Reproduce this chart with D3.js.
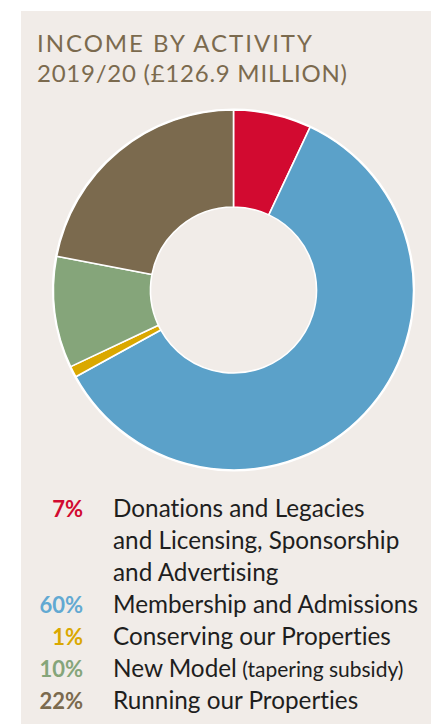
<!DOCTYPE html>
<html>
<head>
<meta charset="utf-8">
<script src="https://cdn.jsdelivr.net/npm/d3@7"></script>
<style>
  html, body { margin: 0; padding: 0; background: #ffffff; }
  svg { display: block; }
  text { font-family: Lato, "Open Sans", sans-serif; font-variant-ligatures: none; }
</style>
</head>
<body>
<svg id="chart" width="431" height="724"></svg>
<script>
// Income by activity, 2019/20
const categories = [
  "Donations and Legacies and Licensing, Sponsorship and Advertising",
  "Membership and Admissions",
  "Conserving our Properties",
  "New Model",
  "Running our Properties"
];
const shares = [7, 60, 1, 10, 22];
const colours = ["#d20a30", "#5ba1c9", "#daa800", "#85a57a", "#7b6a4e"];
const labelColours = ["#d20a30", "#62a9d2", "#daa800", "#85a57a", "#7b6a4e"];
// Legend lines per category (a category may wrap over several lines)
const legendLines = [
  ["Donations and Legacies", "and Licensing, Sponsorship", "and Advertising"],
  ["Membership and Admissions"],
  ["Conserving our Properties"],
  ["New Model"],
  ["Running our Properties"]
];
const legendNotes = ["", "", "", "(tapering subsidy)", ""];
const titleLines = ["INCOME BY ACTIVITY", "2019/20 (£126.9 MILLION)"];
const titleWidths = [275, 310];

const W = 431, H = 724;
const svg = d3.select("#chart");

// Panel background
svg.append("rect")
  .attr("x", 21).attr("y", 11)
  .attr("width", W - 21).attr("height", H - 11)
  .attr("fill", "#f1ece8");

// Title, spread to the panel's heading measure
svg.append("g").selectAll("text")
  .data(titleLines)
  .join("text")
  .attr("x", 37)
  .attr("y", (d, i) => 52 + i * 30)
  .attr("font-size", 24)
  .attr("fill", "#7b6a4e")
  .attr("textLength", (d, i) => titleWidths[i])
  .attr("lengthAdjust", "spacing")
  .text(d => d);

// Donut
const cx = 233.5, cy = 290, outerR = 180, innerR = 83;
const pie = d3.pie().sort(null).value(d => d);
const arc = d3.arc().innerRadius(innerR).outerRadius(outerR);
const g = svg.append("g").attr("transform", `translate(${cx},${cy})`);

g.selectAll("path")
  .data(pie(shares))
  .join("path")
  .attr("d", arc)
  .attr("fill", (d, i) => colours[i])
  .attr("stroke", "#ffffff")
  .attr("stroke-width", 1.6)
  .attr("stroke-linejoin", "round");

// Outer white rim
g.append("circle")
  .attr("r", outerR + 0.8)
  .attr("fill", "none")
  .attr("stroke", "#ffffff")
  .attr("stroke-width", 1.6);

// Legend
const lineH = 32;
const legendTop = 517;
const pctX = 83, textX = 113;
let row = 0;
const legend = svg.append("g");
categories.forEach((c, i) => {
  legend.append("text")
    .attr("x", pctX)
    .attr("y", legendTop + row * lineH)
    .attr("text-anchor", "end")
    .attr("font-size", 22)
    .attr("font-weight", 700)
    .attr("fill", labelColours[i])
    .text(d3.format(".0f")(shares[i]) + "%");
  legendLines[i].forEach((ln, j) => {
    const t = legend.append("text")
      .attr("x", textX)
      .attr("y", legendTop + (row + j) * lineH)
      .attr("font-size", 24.3)
      .attr("fill", "#1e1e1e")
      .text(ln);
    if (legendNotes[i] && j === legendLines[i].length - 1) {
      t.append("tspan")
        .attr("font-size", 21)
        .text(" " + legendNotes[i]);
    }
  });
  row += legendLines[i].length;
});
</script>
</body>
</html>
